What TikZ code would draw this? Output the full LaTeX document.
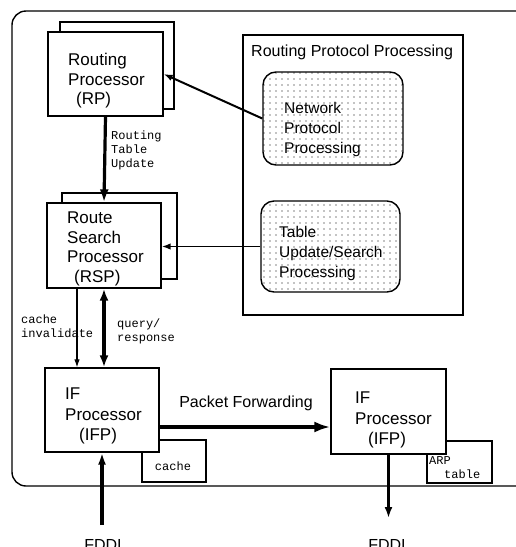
\documentclass[tikz,border=0pt]{standalone}
\usepackage{fontspec}
\setmainfont{Liberation Sans}
\setmonofont{Liberation Mono}
\usetikzlibrary{arrows.meta,patterns.meta}

\begin{document}
\begin{tikzpicture}[x=1pt,y=-1pt,
  box/.style={draw, line width=1.3pt, fill=white, inner sep=0pt},
  dotbox/.style={draw, line width=1.4pt, rounded corners=13pt, inner sep=0pt,
    pattern={Dots[distance=6pt, radius=0.7pt]}, pattern color=black},
  lbl/.style={anchor=north west, inner sep=0pt, align=left,
    font=\fontsize{17}{19.5}\selectfont},
  dlbl/.style={anchor=north west, inner sep=0pt, align=left,
    font=\fontsize{15.5}{20}\selectfont},
  mlbl/.style={anchor=north west, inner sep=0pt, align=left,
    font=\ttfamily\fontsize{12}{14}\selectfont},
  bigarrow/.style={line width=3.2pt, -{Latex[length=13pt,width=9pt]}},
  bigboth/.style={line width=3.2pt, {Latex[length=12pt,width=9pt]}-{Latex[length=12pt,width=9pt]}},
  midarrow/.style={line width=2pt, -{Latex[length=9pt,width=6.5pt]}},
  thinarrow/.style={line width=1.1pt, -{Latex[length=8pt,width=5.5pt]}}
]
\useasboundingbox (0,0) rectangle (515,547);

% outer enclosure (runs off the right edge)
\draw[line width=1.4pt, rounded corners=14pt] (12,11) rectangle (540,486);

% routing protocol processing group
\node[box, minimum width=220pt, minimum height=280pt] (rpp) at (353,175) {};
\node[anchor=north west, inner sep=0pt, font=\fontsize{16}{19}\selectfont] (rpptitle) at (251,45) {Routing Protocol Processing};
\node[dotbox, minimum width=140pt, minimum height=93pt] (npp) at (333,118.5) {};
\node[dlbl] (npptxt) at (284,102) {Network\\Protocol\\Processing};
\node[dotbox, minimum width=139pt, minimum height=91pt] (tus) at (330.5,246.5) {};
\node[dlbl] (tustxt) at (279,226) {Table\\Update/Search\\Processing};

% routing processor (stacked)
\node[box, minimum width=114pt, minimum height=87pt] (rpback) at (117,65.5) {};
\node[box, minimum width=115pt, minimum height=84pt] (rp) at (105.5,74) {};
\node[lbl] (rptxt) at (68,53) {Routing\\Processor\\\hspace*{8pt}(RP)};

% route search processor (stacked)
\node[box, minimum width=115pt, minimum height=86pt] (rspback) at (119.5,236) {};
\node[box, minimum width=114pt, minimum height=85pt] (rsp) at (104,245.5) {};
\node[lbl] (rsptxt) at (67,212) {Route\\Search\\Processor\\\hspace*{7pt}(RSP)};

% interface processors with their tables
\node[box, minimum width=64pt, minimum height=42pt] (cache) at (174,461) {};
\node[inner sep=0pt, font=\ttfamily\fontsize{12}{14}\selectfont] (cachetxt) at (173,466) {cache};
\node[box, minimum width=114pt, minimum height=84pt] (ifpl) at (102,410) {};
\node[lbl, font=\fontsize{17}{20.5}\selectfont] (ifpltxt) at (65,388) {IF\\Processor\\\hspace*{14pt}(IFP)};

\node[box, minimum width=65pt, minimum height=42pt] (arp) at (459.5,462) {};
\node[box, minimum width=115pt, minimum height=85pt] (ifpr) at (388.5,411.5) {};
\node[mlbl] (arptxt) at (429,456) {ARP\\\hspace*{15pt}table};
\node[lbl, font=\fontsize{17}{20.5}\selectfont] (ifprtxt) at (355,392) {IF\\Processor\\\hspace*{13pt}(IFP)};

% connectors
\draw[bigarrow] (rp.south) -- (rsp.north);
\node[mlbl] (rtu) at (111,131) {Routing\\Table\\Update};

\draw[midarrow] (npp.west) -- (rp.east);
\draw[midarrow, line width=1.7pt] (tus.west) -- (tus.west -| rsp.east);

\coordinate (civ) at ([xshift=-27pt]rsp.south);
\draw[thinarrow] (civ) -- (civ |- ifpl.north);
\node[mlbl] (civtxt) at (21,315) {cache\\invalidate};

\draw[bigboth] (rsp.south) -- (rsp.south |- ifpl.north);
\node[mlbl] (qrtxt) at (117,319) {query/\\response};

\coordinate (pf) at ([yshift=-17pt]ifpl.east);
\draw[line width=3.4pt, -{Latex[length=16pt,width=11pt]}] (pf) -- (pf -| ifpr.west);
\node[inner sep=0pt, font=\fontsize{16}{19}\selectfont] (pftxt) at (246,403) {Packet Forwarding};

% FDDI links
\coordinate (fin) at (102,525);
\draw[bigarrow, -{Latex[length=12pt,width=8pt]}] (fin) -- (fin |- ifpl.south);
\node[anchor=base, inner sep=0pt, font=\fontsize{16}{19}\selectfont] (fddil) at (103,550) {FDDI};

\coordinate (fout) at (388.5,518);
\draw[line width=3pt, -{Latex[length=11pt,width=8pt]}] (ifpr.south) -- (ifpr.south |- fout);
\node[anchor=base, inner sep=0pt, font=\fontsize{16}{19}\selectfont] (fddir) at (387,550) {FDDI};
\end{tikzpicture}
\end{document}
